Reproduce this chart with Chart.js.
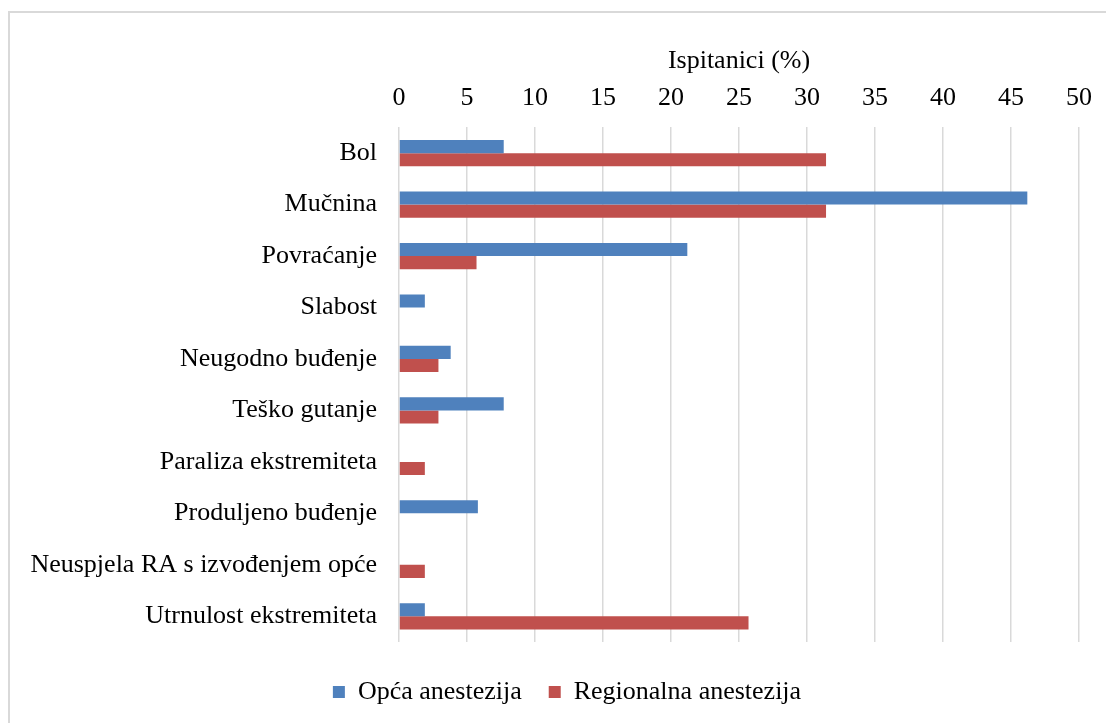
<!DOCTYPE html>
<html>
<head>
<meta charset="utf-8">
<script src="https://cdn.jsdelivr.net/npm/chart.js@4/dist/chart.umd.min.js"></script>
<style>
  html, body { margin:0; padding:0; background:#fff; }
  #wrap { position:relative; width:1106px; height:723px; overflow:hidden; }
  #frame { position:absolute; left:8px; top:11px; width:1200px; height:800px;
           border-left:2px solid #d9d9d9; border-top:2px solid #d9d9d9; }
  #chart { position:absolute; left:0; top:0; }
</style>
</head>
<body>
<div id="wrap">
  <div id="frame"></div>
  <canvas id="chart" width="1106" height="723"></canvas>
</div>
<script>
const categories = ['Bol', 'Mučnina', 'Povraćanje', 'Slabost', 'Neugodno buđenje',
  'Teško gutanje', 'Paraliza ekstremiteta', 'Produljeno buđenje',
  'Neuspjela RA s izvođenjem opće', 'Utrnulost ekstremiteta'];
const opcaAnestezija       = [7.7, 46.2, 21.2, 1.9, 3.8, 7.7, 0, 5.8, 0, 1.9];
const regionalnaAnestezija = [31.4, 31.4, 5.7, 0, 2.9, 2.9, 1.9, 0, 1.9, 25.7];
const xTicks = [0, 5, 10, 15, 20, 25, 30, 35, 40, 45, 50];

const serif = "'Liberation Serif', 'Times New Roman', serif";
Chart.defaults.font.family = serif;
Chart.defaults.font.size = 26;
Chart.defaults.color = '#000';

// legend in the original is centred on the whole frame, a bit right of the canvas middle
const legendShift = {
  id: 'legendShift',
  afterLayout(chart) {
    chart.legend.left += 8;
    chart.legend.right += 8;
  }
};

const ctx = document.getElementById('chart').getContext('2d');
new Chart(ctx, {
  type: 'bar',
  data: {
    labels: categories,
    datasets: [
      { label: 'Opća anestezija', data: opcaAnestezija, backgroundColor: '#4f81bd' },
      { label: 'Regionalna anestezija', data: regionalnaAnestezija, backgroundColor: '#c0504d' }
    ]
  },
  options: {
    indexAxis: 'y',
    responsive: false,
    animation: false,
    categoryPercentage: 0.51,
    barPercentage: 1.0,
    layout: { padding: { left: 30, right: 18, top: 33, bottom: 8 } },
    plugins: {
      legend: {
        position: 'bottom',
        title: { display: true, text: ' ', font: { size: 10, lineHeight: 1 }, padding: 0 },
        labels: { boxWidth: 12, boxHeight: 12, padding: 27, font: { size: 26 } }
      },
      tooltip: { enabled: false }
    },
    scales: {
      x: {
        position: 'top',
        min: 0, max: 50,
        afterBuildTicks: axis => { axis.ticks = xTicks.map(v => ({ value: v })); },
        ticks: { padding: 14 },
        grid: { color: '#d9d9d9', lineWidth: 1.5, drawTicks: false },
        border: { display: false },
        title: { display: true, text: 'Ispitanici (%)', font: { size: 26 }, padding: { top: 13, bottom: -9 } }
      },
      y: {
        grid: { display: false, drawTicks: false },
        border: { display: false },
        ticks: { padding: 22 },
        afterFit: axis => { axis.width = 369; }
      }
    }
  },
  plugins: [legendShift]
});
</script>
</body>
</html>
